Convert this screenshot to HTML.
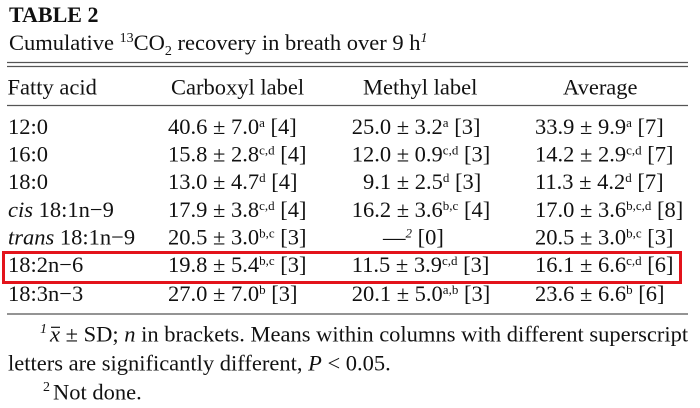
<!DOCTYPE html>
<html>
<head>
<meta charset="utf-8">
<style>
  html,body{margin:0;padding:0;background:#fff;}
  svg{display:block;}
  text{font-family:"Liberation Serif","Times New Roman",serif;fill:#111;white-space:pre;}
</style>
</head>
<body>
<svg width="700" height="408" viewBox="0 0 700 408" xmlns="http://www.w3.org/2000/svg">
  <rect width="700" height="408" fill="#fff"/>
  <!-- Title -->
  <text x="9" y="22" font-size="22" font-weight="bold">TABLE 2</text>
  <text x="9" y="50" font-size="22.5">Cumulative <tspan font-size="14" dy="-8">13</tspan><tspan dy="8">CO</tspan><tspan font-size="14" dy="5">2</tspan><tspan dy="-5"> recovery in breath over 9 h</tspan><tspan font-size="14" dy="-8" font-style="italic">1</tspan></text>

  <!-- rules -->
  <line x1="7" y1="62.5" x2="688" y2="62.5" stroke="#555" stroke-width="1.3"/>
  <line x1="7" y1="66.5" x2="688" y2="66.5" stroke="#555" stroke-width="1.3"/>
  <line x1="7" y1="105.5" x2="688" y2="105.5" stroke="#555" stroke-width="1.3"/>
  <line x1="7" y1="314" x2="688" y2="314" stroke="#555" stroke-width="1.3"/>

  <!-- header -->
  <g font-size="22.5">
    <text x="7.5" y="94.5">Fatty acid</text>
    <text x="171" y="94.5">Carboxyl label</text>
    <text x="363" y="94.5">Methyl label</text>
    <text x="563" y="94.5">Average</text>
  </g>

  <!-- Fatty acid column -->
  <g font-size="22.5">
    <text x="8" y="134">12:0</text>
    <text x="8" y="161.6">16:0</text>
    <text x="8" y="189.2">18:0</text>
    <text x="8" y="216.8"><tspan font-style="italic">cis</tspan> 18:1n−9</text>
    <text x="8" y="244.4"><tspan font-style="italic">trans</tspan> 18:1n−9</text>
    <text x="8" y="272">18:2n−6</text>
    <text x="8" y="301">18:3n−3</text>
  </g>

  <!-- Carboxyl column -->
  <g font-size="22.5">
    <text x="168" y="134">40.6 ± 7.0<tspan font-size="13" dy="-7">a</tspan><tspan dy="7"> [4]</tspan></text>
    <text x="168" y="161.6">15.8 ± 2.8<tspan font-size="13" dy="-7">c,d</tspan><tspan dy="7"> [4]</tspan></text>
    <text x="168" y="189.2">13.0 ± 4.7<tspan font-size="13" dy="-7">d</tspan><tspan dy="7"> [4]</tspan></text>
    <text x="168" y="216.8">17.9 ± 3.8<tspan font-size="13" dy="-7">c,d</tspan><tspan dy="7"> [4]</tspan></text>
    <text x="168" y="244.4">20.5 ± 3.0<tspan font-size="13" dy="-7">b,c</tspan><tspan dy="7"> [3]</tspan></text>
    <text x="168" y="272">19.8 ± 5.4<tspan font-size="13" dy="-7">b,c</tspan><tspan dy="7"> [3]</tspan></text>
    <text x="168" y="301">27.0 ± 7.0<tspan font-size="13" dy="-7">b</tspan><tspan dy="7"> [3]</tspan></text>
  </g>

  <!-- Methyl column -->
  <g font-size="22.5">
    <text x="351.7" y="134">25.0 ± 3.2<tspan font-size="13" dy="-7">a</tspan><tspan dy="7"> [3]</tspan></text>
    <text x="351.7" y="161.6">12.0 ± 0.9<tspan font-size="13" dy="-7">c,d</tspan><tspan dy="7"> [3]</tspan></text>
    <text x="363" y="189.2">9.1 ± 2.5<tspan font-size="13" dy="-7">d</tspan><tspan dy="7"> [3]</tspan></text>
    <text x="351.7" y="216.8">16.2 ± 3.6<tspan font-size="13" dy="-7">b,c</tspan><tspan dy="7"> [4]</tspan></text>
    <text x="383" y="244.4">—<tspan font-size="13" dy="-7" font-style="italic">2</tspan><tspan dy="7"> [0]</tspan></text>
    <text x="351.7" y="272">11.5 ± 3.9<tspan font-size="13" dy="-7">c,d</tspan><tspan dy="7"> [3]</tspan></text>
    <text x="351.7" y="301">20.1 ± 5.0<tspan font-size="13" dy="-7">a,b</tspan><tspan dy="7"> [3]</tspan></text>
  </g>

  <!-- Average column -->
  <g font-size="22.5">
    <text x="535" y="134">33.9 ± 9.9<tspan font-size="13" dy="-7">a</tspan><tspan dy="7"> [7]</tspan></text>
    <text x="535" y="161.6">14.2 ± 2.9<tspan font-size="13" dy="-7">c,d</tspan><tspan dy="7"> [7]</tspan></text>
    <text x="535" y="189.2">11.3 ± 4.2<tspan font-size="13" dy="-7">d</tspan><tspan dy="7"> [7]</tspan></text>
    <text x="535" y="216.8">17.0 ± 3.6<tspan font-size="13" dy="-7">b,c,d</tspan><tspan dy="7"> [8]</tspan></text>
    <text x="535" y="244.4">20.5 ± 3.0<tspan font-size="13" dy="-7">b,c</tspan><tspan dy="7"> [3]</tspan></text>
    <text x="535" y="272">16.1 ± 6.6<tspan font-size="13" dy="-7">c,d</tspan><tspan dy="7"> [6]</tspan></text>
    <text x="535" y="301">23.6 ± 6.6<tspan font-size="13" dy="-7">b</tspan><tspan dy="7"> [6]</tspan></text>
  </g>

  <!-- red highlight box -->
  <rect x="3.5" y="252.5" width="677" height="30" fill="none" stroke="#e3131b" stroke-width="3"/>

  <!-- footnotes -->
  <g font-size="22.5">
    <text x="40" y="333" font-size="14" font-style="italic">1</text>
    <text x="50" y="341.3"><tspan font-style="italic">x</tspan> ± SD; <tspan font-style="italic">n</tspan> in brackets. Means within columns with different superscript</text>
    <line x1="51" y1="327.3" x2="60" y2="327.3" stroke="#111" stroke-width="1.2"/>
    <text x="8" y="370.3">letters are significantly different, <tspan font-style="italic">P</tspan> &lt; 0.05.</text>
    <text x="43" y="391" font-size="14">2</text>
    <text x="53" y="399.7">Not done.</text>
  </g>
</svg>
</body>
</html>
